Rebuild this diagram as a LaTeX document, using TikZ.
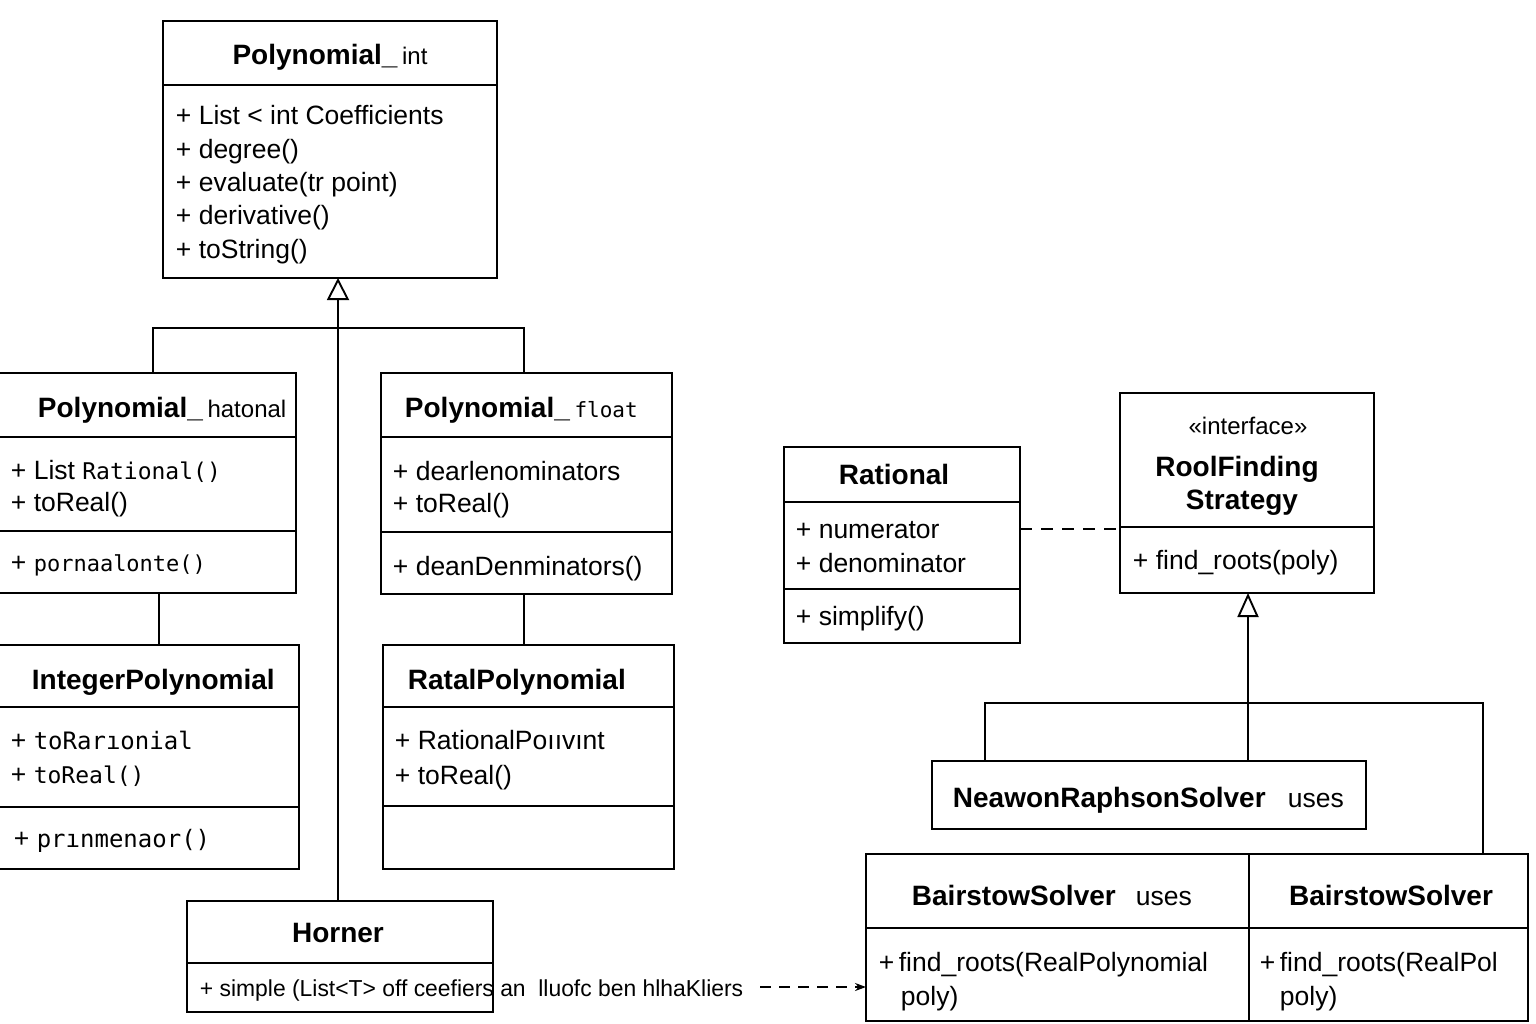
\documentclass[tikz,border=0pt]{standalone}
\usepackage{fontspec}
\setmainfont{Liberation Sans}
\setmonofont{DejaVu Sans Mono}
\usetikzlibrary{arrows.meta}
\begin{document}
\begin{tikzpicture}[x=1pt,y=-1pt,line width=1.9pt,
  box/.style={draw,rectangle,anchor=north west,inner sep=0pt,outer sep=0pt},
  ttl/.style={font=\bfseries\fontsize{28}{30}\selectfont,inner sep=0pt,anchor=base},
  ttlw/.style={font=\bfseries\fontsize{28}{30}\selectfont,inner sep=0pt,anchor=base west},
  attr/.style={font=\fontsize{26.5}{30}\selectfont,inner sep=0pt,anchor=base west},
  gen/.style={-{Triangle[open,length=22pt,width=22pt]}},
  dsh/.style={dash pattern=on 12pt off 9pt}]
\useasboundingbox (0,0) rectangle (1536,1024);
\fill[white] (0,0) rectangle (1536,1024);

% ---------- Polynomial_int
\node[box,minimum width=334pt,minimum height=257pt] (pint) at (163,21) {};
\coordinate (y1) at (0,85);
\draw (pint.west |- y1) -- (pint.east |- y1);
\node[ttl] (pintT) at (330,65) {Polynomial\_\,{\mdseries\fontsize{24}{26}\selectfont int}};
\node[attr] (pa1) at (175,125) {+ List < int Coefficients};
\node[attr] (pa2) at (175,159) {+ degree()};
\node[attr] (pa3) at (175,192) {+ evaluate(tr point)};
\node[attr] (pa4) at (175,225) {+ derivative()};
\node[attr] (pa5) at (175,259) {+ toString()};

% ---------- Polynomial_rational
\node[box,minimum width=298pt,minimum height=220pt] (prat) at (-2,373) {};
\coordinate (y2) at (0,437); \coordinate (y3) at (0,531);
\draw (prat.west |- y2) -- (prat.east |- y2);
\draw (prat.west |- y3) -- (prat.east |- y3);
\node[ttlw] (pratT) at (37,417) {Polynomial\_\,{\mdseries\fontsize{24}{26}\selectfont hatonal}};
\node[attr] (ra1) at (10,479) {+ List {\ttfamily\fontsize{23}{26}\selectfont Rational()}};
\node[attr] (ra2) at (10,511) {+ toReal()};
\node[attr] (ra3) at (10,571) {+ {\ttfamily\fontsize{22}{26}\selectfont pornaalonte()}};

% ---------- Polynomial_float
\node[box,minimum width=291pt,minimum height=221pt] (pflt) at (381,373) {};
\coordinate (y4) at (0,532);
\draw (pflt.west |- y2) -- (pflt.east |- y2);
\draw (pflt.west |- y4) -- (pflt.east |- y4);
\node[ttlw] (pfltT) at (404,417) {Polynomial\_\,{\mdseries\ttfamily\fontsize{21}{26}\selectfont float}};
\node[attr] (fa1) at (392,480) {+ dearlenominators};
\node[attr] (fa2) at (392,512) {+ toReal()};
\node[attr] (fa3) at (392,575) {+ deanDenminators()};

% ---------- IntegerPolynomial
\node[box,minimum width=301pt,minimum height=224pt] (intp) at (-2,645) {};
\coordinate (y5) at (0,707); \coordinate (y6) at (0,807);
\draw (intp.west |- y5) -- (intp.east |- y5);
\draw (intp.west |- y6) -- (intp.east |- y6);
\node[ttlw] (intpT) at (31,689) {IntegerPolynomial};
\node[attr] (ia1) at (10,749) {+ {\ttfamily\fontsize{24}{26}\selectfont toRarıonial}};
\node[attr] (ia2) at (10,783) {+ {\ttfamily\fontsize{23}{26}\selectfont toReal()}};
\node[attr] (ia3) at (13,847) {+ {\ttfamily\fontsize{24}{26}\selectfont prınmenaor()}};

% ---------- RatalPolynomial
\node[box,minimum width=291pt,minimum height=224pt] (ratp) at (383,645) {};
\coordinate (y7) at (0,806);
\draw (ratp.west |- y5) -- (ratp.east |- y5);
\draw (ratp.west |- y7) -- (ratp.east |- y7);
\node[ttlw] (ratpT) at (407,689) {RatalPolynomial};
\node[attr] (pa6) at (394,749) {+ RationalPoııvınt};
\node[attr] (pa7) at (394,784) {+ toReal()};

% ---------- Horner
\node[box,minimum width=306pt,minimum height=111pt] (horner) at (187,901) {};
\coordinate (y8) at (0,963);
\draw (horner.west |- y8) -- (horner.east |- y8);
\node[ttl] (hornerT) at (338,942) {Horner};
\node[attr,font=\fontsize{22}{24}\selectfont] (ha1) at (199,996) {\scalebox{1.04}[1.05]{+ simple (List<T> off ceefiers an\ \ lluofc ben hlhaKliers}};

% ---------- Rational
\node[box,minimum width=236pt,minimum height=196pt] (rational) at (784,447) {};
\coordinate (y9) at (0,502); \coordinate (y10) at (0,589);
\draw (rational.west |- y9) -- (rational.east |- y9);
\draw (rational.west |- y10) -- (rational.east |- y10);
\node[ttl] (rationalT) at (894,484) {Rational};
\node[attr] (na1) at (795,538) {+ numerator};
\node[attr] (na2) at (795,572) {+ denominator};
\node[attr] (na3) at (795,625) {+ simplify()};

% ---------- RootFinding interface
\node[box,minimum width=254pt,minimum height=200pt] (iface) at (1120,393) {};
\coordinate (y11) at (0,527);
\draw (iface.west |- y11) -- (iface.east |- y11);
\node[attr,anchor=base,font=\fontsize{24}{26}\selectfont] (ifS) at (1248,434) {«interface»};
\node[ttl] (ifT1) at (1237,476) {RoolFinding};
\node[ttl] (ifT2) at (1242,509) {Strategy};
\node[attr] (ifa1) at (1132,569) {+ find\_roots(poly)};

% ---------- NewtonRaphsonSolver
\node[box,minimum width=434pt,minimum height=68pt] (newton) at (932,761) {};
\node[ttlw] (newtonT) at (952,807) {NeawonRaphsonSolver};
\node[attr] (newtonU) at (1287,807) {uses};

% ---------- Bairstow (double)
\node[box,minimum width=662pt,minimum height=167pt] (bair) at (866,854) {};
\coordinate (xb) at (1249,0); \coordinate (y12) at (0,928);
\draw (bair.north -| xb) -- (bair.south -| xb);
\draw (bair.west |- y12) -- (bair.east |- y12);
\node[ttlw] (bairT1) at (911,905) {BairstowSolver};
\node[attr] (bairU) at (1135,905) {uses};
\node[ttl] (bairT2) at (1391,905) {BairstowSolver};
\node[attr] (ba1) at (878,971) {+\,find\_roots(RealPolynomial};
\node[attr] (ba2) at (900,1005) {poly)};
\node[attr] (ba3) at (1259,971) {+\,find\_roots(RealPol};
\node[attr] (ba4) at (1279,1005) {poly)};

% ---------- connectors
\coordinate (xh) at (338,0);
\draw[gen] (horner.north -| xh) -- (pint.south -| xh);
\coordinate (brL) at (153,328);
\coordinate (brR) at (524,328);
\draw (prat.north -| brL) -- (brL) -- (brR) -- (pflt.north -| brR);
\coordinate (xc1) at (159,0);
\draw (prat.south -| xc1) -- (intp.north -| xc1);
\coordinate (xc2) at (524,0);
\draw (pflt.south -| xc2) -- (ratp.north -| xc2);

\coordinate (yr) at (0,529);
\draw[dsh] (rational.east |- yr) -- (iface.west |- yr);

\coordinate (xi) at (1248,0);
\draw[{Triangle[open,length=24pt,width=21pt]}-] (iface.south -| xi) -- (newton.north -| xi);
\coordinate (bnL) at (985,703);
\coordinate (bnR) at (1483,703);
\draw (newton.north -| bnL) -- (bnL) -- (bnR) -- (bair.north -| bnR);

\coordinate (hd) at (760,987);
\draw[dash pattern=on 11pt off 8pt,-{Stealth[length=11pt,width=8pt]}] (hd) -- (bair.west |- hd);
\end{tikzpicture}
\end{document}
